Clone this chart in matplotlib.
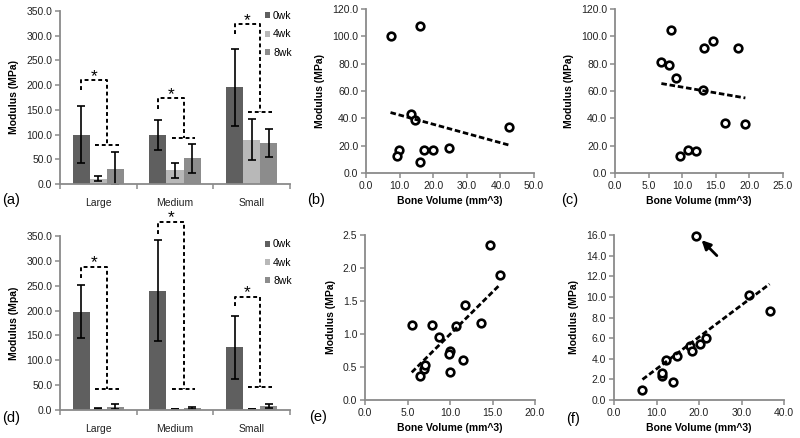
import matplotlib
matplotlib.use('Agg')
import matplotlib.pyplot as plt
import numpy as np
from matplotlib.ticker import FormatStrFormatter, MultipleLocator

plt.rcParams['font.family'] = ['Liberation Sans', 'DejaVu Sans']

categories = ['Large', 'Medium', 'Small']
weeks = ['0wk', '4wk', '8wk']

# panel (a): modulus by size group
a_means = [[100, 99, 196], [11, 28, 90], [31, 52, 83]]
a_errs = [[57, 31, 78], [5.5, 15, 42], [33, 29, 28]]
a_bracket_start = [190, 152, 304]
a_bracket_top = [210, 173, 323]
a_bracket_low = [79, 94, 145]

# panel (d)
d_means = [[198, 240, 126], [2.5, 2, 2], [7, 4, 8]]
d_errs = [[54, 102, 63], [1, 0.8, 0.8], [5, 1.5, 4.5]]
d_bracket_start = [266, 355, 210]
d_bracket_top = [288, 379, 228]
d_bracket_low = [42, 43, 46]

# scatter panels: bone volume vs modulus
b_vol = [7.3, 16.0, 13.3, 14.5, 9.9, 9.3, 16.0, 17.2, 20.0, 24.6, 42.7]
b_mod = [100.4, 107.5, 43.5, 38.6, 16.6, 12.2, 8.1, 16.6, 16.6, 18.3, 33.7]

c_vol = [6.9, 8.0, 8.4, 9.1, 9.6, 10.9, 12.1, 13.1, 13.3, 14.6, 16.4, 18.3, 19.4]
c_mod = [80.9, 78.7, 104.6, 69.6, 12.7, 16.6, 16.1, 60.4, 91.6, 96.3, 36.7, 91.2, 36.2]

e_vol = [5.5, 6.5, 6.9, 7.1, 7.9, 8.7, 10.0, 9.9, 10.0, 10.7, 11.5, 11.8, 13.6, 14.7, 15.9]
e_mod = [1.14, 0.36, 0.47, 0.53, 1.13, 0.96, 0.74, 0.69, 0.42, 1.12, 0.60, 1.44, 1.17, 2.35, 1.90]

f_vol = [6.7, 11.2, 11.2, 12.3, 13.9, 14.8, 17.9, 18.3, 20.2, 21.6, 19.3, 31.7, 36.6]
f_mod = [1.0, 2.3, 2.6, 3.9, 1.7, 4.3, 5.2, 4.75, 5.4, 6.0, 15.9, 10.2, 8.6]

bar_colors = ['#5f5f5f', '#b8b8b8', '#8c8c8c']
axis_gray = '#8a8a8a'
bar_w = 1 / 4.5

fig = plt.figure(figsize=(8, 4.38), dpi=100)


def add_axes_px(left, top, right, bottom):
    return fig.add_axes([left / 800, 1 - bottom / 438, (right - left) / 800, (bottom - top) / 438])


def style_axes(ax):
    for side in ['top', 'right']:
        ax.spines[side].set_visible(False)
    for side in ['left', 'bottom']:
        ax.spines[side].set_color(axis_gray)
        ax.spines[side].set_linewidth(1.3)
    ax.tick_params(direction='out', length=3.5, width=1.1, color=axis_gray,
                   labelsize=7.5, labelcolor='#222222', pad=2)
    ax.yaxis.set_major_formatter(FormatStrFormatter('%.1f'))


def bar_panel(ax, means, errs, b_start, b_top, b_low, ylabel, legend_top):
    x = np.arange(len(categories))
    for k, wk in enumerate(weeks):
        ax.bar(x + (k - 1) * bar_w, means[k], bar_w, yerr=errs[k], color=bar_colors[k], label=wk,
               error_kw=dict(ecolor='black', elinewidth=1.2, capsize=2.8, capthick=1.2))
    style_axes(ax)
    ax.set_xlim(-0.5, 2.5)
    ax.set_ylim(0, 350)
    ax.yaxis.set_major_locator(MultipleLocator(50))
    ax.set_xticks([-0.5, 0.5, 1.5, 2.5], ['', '', '', ''])
    ax.set_xticks(x, categories, minor=True)
    ax.tick_params(axis='x', which='minor', length=0, pad=10, labelsize=7.5, labelcolor='#222222')
    ax.set_ylabel(ylabel, fontsize=7.5, fontweight='bold', labelpad=5)

    dash = dict(color='black', lw=1.4, ls=(0, (2, 1.5)), clip_on=False)
    for i in x:
        x0 = i - bar_w
        x1 = i + bar_w / 2
        ax.plot([x0, x0, x1, x1], [b_start[i], b_top[i], b_top[i], b_low[i]], **dash)
        ax.plot([x1 - 0.155, x1 + 0.155], [b_low[i], b_low[i]], **dash)
        ax.text((x0 + x1) / 2, b_top[i] + 8, '*', ha='center', va='center',
                fontsize=12.5, clip_on=False)

    ax.legend(loc='upper left', bbox_to_anchor=(0.89, legend_top), frameon=False, fontsize=7.5,
              handlelength=0.5, handleheight=0.5, handletextpad=0.3, borderpad=0,
              borderaxespad=0, labelspacing=0.8)


def scatter_panel(ax, vol, mod, xmax, xstep, ymax, ystep):
    ax.plot(vol, mod, 'o', ms=5.5, mfc='white', mec='black', mew=1.9, zorder=3, clip_on=False)
    coef = np.polyfit(vol, mod, 1)
    xx = np.array([min(vol), max(vol)])
    ax.plot(xx, np.polyval(coef, xx), color='black', lw=2, ls=(0, (2, 1)), zorder=4)
    style_axes(ax)
    ax.set_xlim(0, xmax)
    ax.set_ylim(0, ymax)
    ax.xaxis.set_major_locator(MultipleLocator(xstep))
    ax.yaxis.set_major_locator(MultipleLocator(ystep))
    ax.xaxis.set_major_formatter(FormatStrFormatter('%.1f'))
    ax.set_xlabel('Bone Volume (mm^3)', fontsize=7.5, fontweight='bold', labelpad=4)
    ax.set_ylabel('Modulus (MPa)', fontsize=7.5, fontweight='bold', labelpad=5)


ax_a = add_axes_px(60, 11, 290, 184)
bar_panel(ax_a, a_means, a_errs, a_bracket_start, a_bracket_top, a_bracket_low,
          'Modulus (MPa)', 1.0)

ax_d = add_axes_px(60, 236, 290, 410)
bar_panel(ax_d, d_means, d_errs, d_bracket_start, d_bracket_top, d_bracket_low,
          'Modulus (Mpa)', 0.98)

ax_b = add_axes_px(366, 9, 534, 173)
scatter_panel(ax_b, b_vol, b_mod, 50, 10, 120, 20)

ax_c = add_axes_px(615, 9, 783, 173)
scatter_panel(ax_c, c_vol, c_mod, 25, 5, 120, 20)

ax_e = add_axes_px(365, 235, 535, 400)
scatter_panel(ax_e, e_vol, e_mod, 20, 5, 2.5, 0.5)

ax_f = add_axes_px(614, 235, 784, 400)
scatter_panel(ax_f, f_vol, f_mod, 40, 10, 16, 2)
ax_f.annotate('', xy=(20.6, 15.5), xytext=(24.2, 14.0),
              arrowprops=dict(arrowstyle='-|>', color='black', lw=2, mutation_scale=13,
                              shrinkA=0, shrinkB=0))

for label, px, py in [('(a)', 11, 200), ('(b)', 316, 200), ('(c)', 570, 200),
                      ('(d)', 11, 418), ('(e)', 318, 417), ('(f)', 573, 419)]:
    fig.text(px / 800, 1 - py / 438, label, fontsize=10.5, ha='center', va='center')

fig.savefig('out.png', dpi=100)
